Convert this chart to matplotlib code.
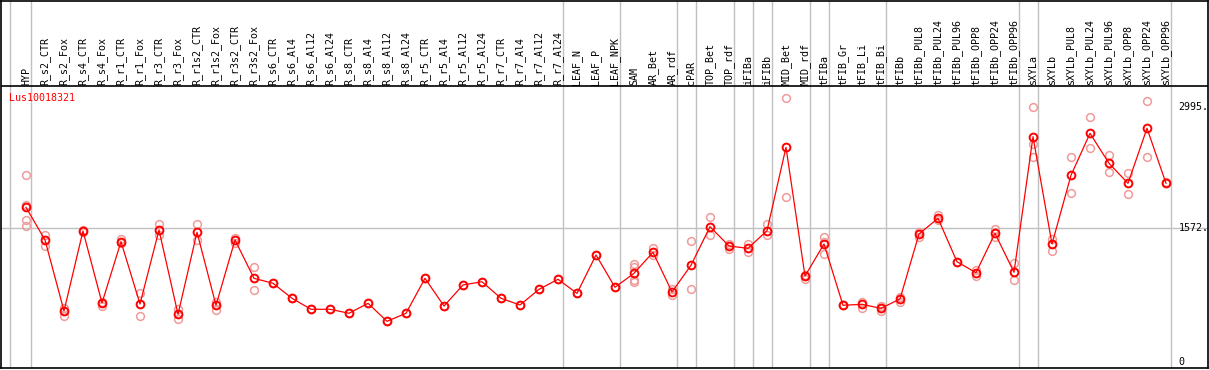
import matplotlib
matplotlib.use("Agg")
import matplotlib.pyplot as plt
import numpy as np

categories = ["HYP", "R_s2_CTR", "R_s2_Fox", "R_s4_CTR", "R_s4_Fox", "R_r1_CTR", "R_r1_Fox",
              "R_r3_CTR", "R_r3_Fox", "R_r1s2_CTR", "R_r1s2_Fox", "R_r3s2_CTR", "R_r3s2_Fox",
              "R_s6_CTR", "R_s6_Al4", "R_s6_Al12", "R_s6_Al24", "R_s8_CTR", "R_s8_Al4",
              "R_s8_Al12", "R_s8_Al24", "R_r5_CTR", "R_r5_Al4", "R_r5_Al12", "R_r5_Al24",
              "R_r7_CTR", "R_r7_Al4", "R_r7_Al12", "R_r7_Al24", "LEAF_N", "LEAF_P", "LEAF_NPK",
              "SAM", "AR_Bet", "AR_rdf", "cPAR", "TOP_Bet", "TOP_rdf", "iFIBa", "iFIBb",
              "MID_Bet", "MID_rdf", "tFIBa", "tFIB_Gr", "tFIB_Li", "tFIB_Bi", "tFIBb",
              "tFIBb_PUL8", "tFIBb_PUL24", "tFIBb_PUL96", "tFIBb_OPP8", "tFIBb_OPP24",
              "tFIBb_OPP96", "sXYLa", "sXYLb", "sXYLb_PUL8", "sXYLb_PUL24", "sXYLb_PUL96",
              "sXYLb_OPP8", "sXYLb_OPP24", "sXYLb_OPP96"]

means = [1818, 1435, 602, 1540, 696, 1415, 684, 1552, 563, 1525, 669, 1435, 985,
         927, 751, 622, 622, 575, 692, 481, 575, 985, 660, 907, 945,
         751, 672, 856, 974, 809, 1259, 880,
         1044, 1290, 825, 1138, 1591, 1364, 1337, 1544,
         2522, 1012, 1388, 669, 680, 633, 743,
         1505, 1689, 1180, 1051, 1513, 1056,
         2646, 1388, 2194, 2686, 2334, 2100, 2745, 2100]

replicates = [[2194, 1845, 1669, 1599], [1493, 1364], [633, 543], [1552, 1528], [711, 660],
              [1443, 1403], [809, 547], [1619, 1493], [625, 504], [1622, 1435], [711, 613],
              [1455, 1396], [1114, 845],
              [927], [751], [622], [622], [575], [692], [481], [575], [985], [660], [907], [945],
              [751], [672], [856], [974], [809], [1259], [880],
              [1153, 1114, 969, 945], [1344, 1259], [856, 789], [1419, 856], [1701, 1490],
              [1388, 1325], [1388, 1290], [1622, 1490],
              [3097, 1935], [1024, 977], [1473, 1415, 1267], [667, 670], [704, 637], [664, 605],
              [770, 704],
              [1532, 1466], [1728, 1669], [1180], [1083, 1012], [1560, 1473], [1161, 962],
              [2991, 2561, 2405], [1443, 1309], [2412, 1982], [2874, 2510], [2428, 2229],
              [2217, 1971], [3069, 2405], [2100, 2120]]

group_sizes = [1, 28, 3, 3, 1, 2, 1, 1, 2, 1, 3, 7, 1, 7]
ytick_vals = [0, 1572, 2995]
ytick_labels = ["0", "1572.", "2995."]
gene = "Lus10018321"

W, H = 1209, 370
fig = plt.figure(figsize=(W / 100, H / 100), dpi=100)
# pixel geometry
left_px, right_px, top_px, bot_px = 1.0, 1207.5, 0.5, 368.0
ax = fig.add_axes([left_px / W, 1 - bot_px / H, (right_px - left_px) / W, (bot_px - top_px) / H])

x0_px, dx_px = 26.0, 19.0
zero_px, per_unit = 362.3, 0.08525


def xval(px):
    return (px - x0_px) / dx_px


def yval(py):
    return (zero_px - py) / per_unit


ax.set_xlim(xval(left_px), xval(right_px))
ax.set_ylim(yval(bot_px), yval(top_px))
ax.set_xticks([])
ax.set_yticks([])
for s in ax.spines.values():
    s.set_linewidth(1.2)
    s.set_color("black")

x = np.arange(len(categories))
gray = "#c0c0c0"

# vertical group separators
ax.axvline(-0.83, color=gray, lw=1.0, zorder=1)
ends = np.cumsum(group_sizes) - 1
for e in ends:
    ax.axvline(e + 0.25, color=gray, lw=1.0, zorder=1)

# horizontal reference line
ax.axhline(ytick_vals[1], color=gray, lw=1.0, zorder=1)
# separator between labels and plot
ax.axhline(yval(86), color="black", lw=1.2, zorder=2)

mono = "DejaVu Sans Mono"
fs = 7.2

# replicates
for i, reps in enumerate(replicates):
    ax.plot([i] * len(reps), reps, linestyle="none", marker="o", ms=5.6, mfc="none",
            mec="#f09a9a", mew=1.1, zorder=3)

ax.plot(x, means, color="#ff0000", lw=0.9, zorder=4)
ax.plot(x, means, linestyle="none", marker="o", ms=5.6, mfc="none", mec="#ff0000",
        mew=1.4, zorder=5)

# category labels
for i, c in enumerate(categories):
    ax.text(i, yval(84.5), c, rotation=90, ha="center", va="bottom", fontsize=fs,
            family=mono, color="black")

# y labels
for v, lab in zip(ytick_vals, ytick_labels):
    ax.text(xval(1178.5), v, lab, ha="left", va="center", fontsize=fs, family=mono,
            color="black")

ax.text(xval(9.3), yval(97.7), gene, ha="left", va="center", fontsize=fs, family=mono,
        color="#ff0000")

fig.savefig("out.png", dpi=100)
